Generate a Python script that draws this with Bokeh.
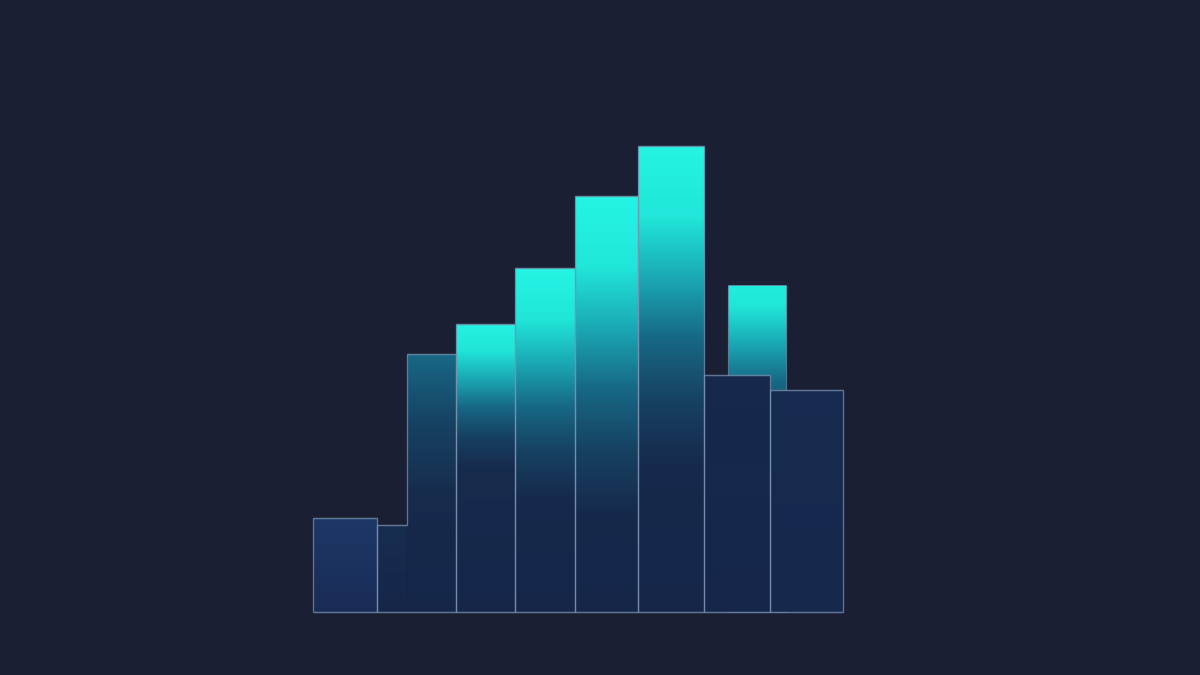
from bokeh.plotting import figure
from bokeh.embed import file_html
from bokeh.resources import INLINE

# ---- data (histogram-like bins) ----
bin_left = [0.0, 6.4, 9.4, 14.3, 20.2, 26.2, 32.5, 39.1, 45.7]
bin_right = [6.4, 9.4, 14.3, 20.2, 26.2, 32.5, 39.1, 45.7, 53.0]
bin_height = [9.4, 8.7, 25.8, 28.8, 34.4, 41.6, 46.6, 23.7, 22.2]
# bins drawn as one outlined shape with the following bin
merge_next = [False, True, False, False, False, False, False, False, False]
# glow: start offset in gradient (1 = no glow) and glow length in value units
glow_start = [1.0, 1.0, 0.6, 0.05, 0.0, 0.0, 0.0, 1.0, 1.0]
glow_len = [10.0, 10.0, 36.0, 15.0, 23.0, 32.0, 32.0, 10.0, 10.0]
base_top = ["#1d3766", "#172d50", "#172f50", "#172f52", "#172f52", "#172f52", "#172f52", "#16294d", "#172b50"]
base_bottom = ["#1a2b56", "#162649", "#152649", "#152649", "#152649", "#152649", "#152649", "#15264a", "#16284c"]

# bar standing behind (partly hidden)
back_left = [41.5]
back_right = [47.3]
back_height = [32.7]
back_glow_start = [0.12]
back_glow_len = [20.0]

BG = "#1b1f34"
EDGE = "#7b94b2"

ramp = [(0.0, "#24f4e3"), (0.22, "#20e6d8"), (0.42, "#1aa5b2"), (0.6, "#176884"), (0.8, "#164060")]


def hex2rgb(h):
    h = h.lstrip("#")
    return [int(h[i:i + 2], 16) for i in (0, 2, 4)]


def mix(c1, c2, t):
    t = max(0.0, min(1.0, t))
    a, b = hex2rgb(c1), hex2rgb(c2)
    return "#%02x%02x%02x" % tuple(int(round(a[i] + (b[i] - a[i]) * t)) for i in range(3))


def grad(t, base):
    stops = ramp + [(1.0, base)]
    t = max(0.0, min(1.0, t))
    for (t0, c0), (t1, c1) in zip(stops[:-1], stops[1:]):
        if t <= t1:
            return mix(c0, c1, (t - t0) / (t1 - t0))
    return base


def slices(left, right, height, gs, gl, ctop, cbot, step=0.2):
    L, R, B, T, C = [], [], [], [], []
    n = max(1, int(round(height / step)))
    for k in range(n):
        y0 = height * k / n
        y1 = height * (k + 1) / n
        d = height - (y0 + y1) / 2.0
        base = mix(ctop, cbot, d / height)
        col = grad(gs + d / gl, base) if gs < 1.0 else base
        L.append(left); R.append(right); B.append(y0); T.append(min(height, y1 + 0.12)); C.append(col)
    return L, R, B, T, C


p = figure(width=1184, height=659, x_range=(-31.3, 87.1), y_range=(-4.7, 61.2),
           output_backend="svg", toolbar_location=None, x_axis_type=None, y_axis_type=None,
           min_border=0, background_fill_color=BG, border_fill_color=BG, outline_line_color=None)
p.xgrid.visible = False
p.ygrid.visible = False

# back bar
for i in range(len(back_left)):
    L, R, B, T, C = slices(back_left[i], back_right[i], back_height[i], back_glow_start[i], back_glow_len[i],
                           "#172f52", "#152649")
    p.quad(left=L, right=R, bottom=B, top=T, fill_color=C, line_color=None)
p.quad(left=back_left, right=back_right, bottom=[0] * len(back_left), top=back_height,
       fill_alpha=0, line_color=EDGE, line_alpha=0.55, line_width=1.2)

# front bars
for i in range(len(bin_left)):
    L, R, B, T, C = slices(bin_left[i], bin_right[i], bin_height[i], glow_start[i], glow_len[i],
                           base_top[i], base_bottom[i])
    p.quad(left=L, right=R, bottom=B, top=T, fill_color=C, line_color=None)

# outlines
xs, ys = [], []
i = 0
while i < len(bin_left):
    if merge_next[i] and i + 1 < len(bin_left):
        j = i + 1
        xs.append([bin_left[i], bin_left[i], bin_right[i], bin_left[j], bin_left[j], bin_right[j], bin_right[j], bin_left[i]])
        ys.append([0, bin_height[i], bin_height[i], bin_height[i], bin_height[j], bin_height[j], 0, 0])
        i += 2
    else:
        xs.append([bin_left[i], bin_left[i], bin_right[i], bin_right[i], bin_left[i]])
        ys.append([0, bin_height[i], bin_height[i], 0, 0])
        i += 1
p.multi_line(xs=xs, ys=ys, line_color=EDGE, line_alpha=0.72, line_width=1.3)

html = file_html(p, INLINE)
html = html.replace("<body>", '<body style="background:%s">' % BG)
open("out.html", "w").write(html)
